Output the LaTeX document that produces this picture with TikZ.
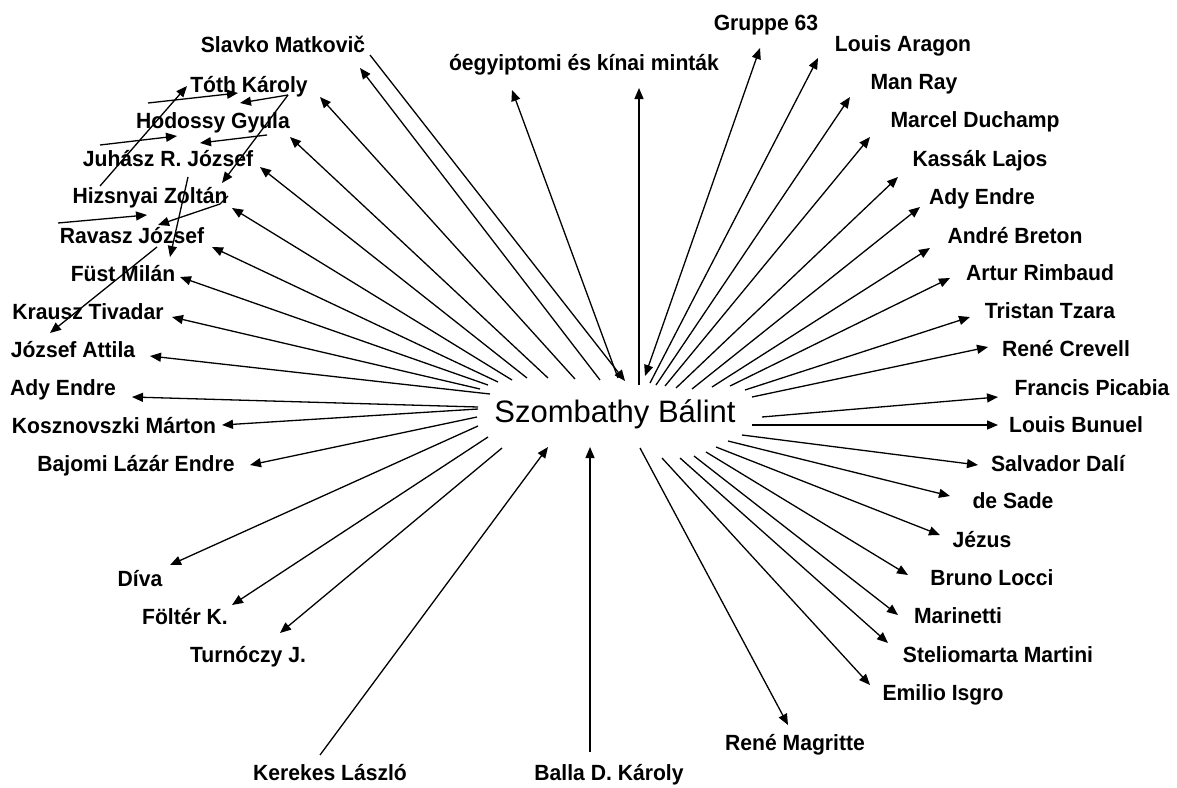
\documentclass[tikz,border=0pt]{standalone}
\usepackage{fontspec}
\setmainfont{Liberation Sans}
\usetikzlibrary{arrows.meta}
\newfontfamily\lblfamily{Liberation Sans}[FakeStretch=0.96]
\begin{document}
\begin{tikzpicture}[x=1pt,y=-1pt,
  lbl/.style={font=\lblfamily\bfseries\fontsize{22}{26}\selectfont, anchor=base, inner sep=0pt},
  hub/.style={font=\fontsize{31}{36}\selectfont, anchor=base, inner sep=0pt},
  tip/.tip={Triangle[length=11pt,width=9pt]},
  conn/.style={-tip, line width=1.3pt},
  dconn/.style={tip-tip, line width=1.3pt}]
\useasboundingbox[fill=white] (0,0) rectangle (1177,787);

% hub
\node[hub] (sz) at (615,422) {Szombathy Bálint};

% labels, left half
\node[lbl] (slavko) at (283,52) {Slavko Matkovič};
\node[lbl] (oegy) at (584,70) {óegyiptomi és kínai minták};
\node[lbl] (toth) at (249,92) {Tóth Károly};
\node[lbl] (hodossy) at (213,128) {Hodossy Gyula};
\node[lbl] (juhasz) at (168,166) {Juhász R. József};
\node[lbl] (hizsnyai) at (150,203) {Hizsnyai Zoltán};
\node[lbl] (ravasz) at (132,243) {Ravasz József};
\node[lbl] (fust) at (123,281) {Füst Milán};
\node[lbl] (krausz) at (88,319) {Krausz Tivadar};
\node[lbl] (jozsef) at (73,357) {József Attila};
\node[lbl] (adyl) at (63,395) {Ady Endre};
\node[lbl] (kosz) at (114,433) {Kosznovszki Márton};
\node[lbl] (bajomi) at (136,471) {Bajomi Lázár Endre};
\node[lbl] (diva) at (140,586) {Díva};
\node[lbl] (folter) at (185,624) {Föltér K.};
\node[lbl] (turnoczy) at (248,662) {Turnóczy J.};
\node[lbl] (kerekes) at (330,780) {Kerekes László};
\node[lbl] (balla) at (609,780) {Balla D. Károly};
\node[lbl] (magritte) at (795,750) {René Magritte};

% labels, right half
\node[lbl] (gruppe) at (766,30) {Gruppe 63};
\node[lbl] (aragon) at (903,51) {Louis Aragon};
\node[lbl] (manray) at (914,89) {Man Ray};
\node[lbl] (duchamp) at (975,127) {Marcel Duchamp};
\node[lbl] (kassak) at (980,166) {Kassák Lajos};
\node[lbl] (adyr) at (982,204) {Ady Endre};
\node[lbl] (breton) at (1015,243) {André Breton};
\node[lbl] (rimbaud) at (1040,280) {Artur Rimbaud};
\node[lbl] (tzara) at (1050,318) {Tristan Tzara};
\node[lbl] (crevell) at (1066,356) {René Crevell};
\node[lbl] (picabia) at (1092,395) {Francis Picabia};
\node[lbl] (bunuel) at (1076,432) {Louis Bunuel};
\node[lbl] (dali) at (1058,471) {Salvador Dalí};
\node[lbl] (sade) at (1013,508) {de Sade};
\node[lbl] (jezus) at (982,547) {Jézus};
\node[lbl] (locci) at (992,585) {Bruno Locci};
\node[lbl] (marinetti) at (958,623) {Marinetti};
\node[lbl] (martini) at (998,662) {Steliomarta Martini};
\node[lbl] (isgro) at (943,700) {Emilio Isgro};

% arrow ends around the hub (s-...) and beside the labels (t-...)
\coordinate (s-slavko) at (600,380);   \coordinate (t-slavko) at (360,68);
\coordinate (s-slavkoin) at (370,55);  \coordinate (t-slavkoin) at (625,381);
\coordinate (s-oegy1) at (618,378);    \coordinate (t-oegy1) at (512,90);
\coordinate (s-oegy2) at (639,385);    \coordinate (t-oegy2) at (639,88);
\coordinate (s-toth) at (575,379);     \coordinate (t-toth) at (320,97);
\coordinate (s-hodossy) at (548,378);  \coordinate (t-hodossy) at (290,137);
\coordinate (s-juhasz) at (527,378);   \coordinate (t-juhasz) at (260,167);
\coordinate (s-hizsnyai) at (512,380); \coordinate (t-hizsnyai) at (232,208);
\coordinate (s-ravasz) at (498,382);   \coordinate (t-ravasz) at (212,247);
\coordinate (s-fust) at (488,385);     \coordinate (t-fust) at (180,277);
\coordinate (s-krausz) at (480,389);   \coordinate (t-krausz) at (172,317);
\coordinate (s-jozsef) at (490,394);   \coordinate (t-jozsef) at (150,356);
\coordinate (s-adyl) at (478,407);     \coordinate (t-adyl) at (132,397);
\coordinate (s-kosz) at (478,409);     \coordinate (t-kosz) at (222,425);
\coordinate (s-bajomi) at (477,417);   \coordinate (t-bajomi) at (250,465);
\coordinate (s-diva) at (478,426);     \coordinate (t-diva) at (170,565);
\coordinate (s-folter) at (488,437);   \coordinate (t-folter) at (232,605);
\coordinate (s-turnoczy) at (502,448); \coordinate (t-turnoczy) at (280,633);
\coordinate (s-kerekes) at (320,755);  \coordinate (t-kerekes) at (548,447);
\coordinate (s-balla) at (590,752);    \coordinate (t-balla) at (590,447);
\coordinate (s-magritte) at (640,448); \coordinate (t-magritte) at (788,725);
\coordinate (s-gruppe) at (645,376);   \coordinate (t-gruppe) at (760,48);
\coordinate (s-aragon) at (650,383);   \coordinate (t-aragon) at (818,58);
\coordinate (s-manray) at (656,385);   \coordinate (t-manray) at (850,97);
\coordinate (s-duchamp) at (665,386);  \coordinate (t-duchamp) at (870,137);
\coordinate (s-kassak) at (676,388);   \coordinate (t-kassak) at (898,177);
\coordinate (s-adyr) at (692,389);     \coordinate (t-adyr) at (920,207);
\coordinate (s-breton) at (712,387);   \coordinate (t-breton) at (930,248);
\coordinate (s-rimbaud) at (730,386);  \coordinate (t-rimbaud) at (950,278);
\coordinate (s-tzara) at (745,390);    \coordinate (t-tzara) at (970,317);
\coordinate (s-crevell) at (752,397);  \coordinate (t-crevell) at (988,347);
\coordinate (s-picabia) at (762,417);  \coordinate (t-picabia) at (998,397);
\coordinate (s-bunuel) at (752,425);   \coordinate (t-bunuel) at (998,425);
\coordinate (s-dali) at (742,435);     \coordinate (t-dali) at (978,465);
\coordinate (s-sade) at (728,441);     \coordinate (t-sade) at (950,496);
\coordinate (s-jezus) at (716,447);    \coordinate (t-jezus) at (940,535);
\coordinate (s-locci) at (706,452);    \coordinate (t-locci) at (908,575);
\coordinate (s-marinetti) at (694,456);\coordinate (t-marinetti) at (898,615);
\coordinate (s-martini) at (680,458);  \coordinate (t-martini) at (888,643);
\coordinate (s-isgro) at (662,458);    \coordinate (t-isgro) at (870,685);

% spokes
\foreach \n in {slavko,oegy1,oegy2,toth,hodossy,juhasz,hizsnyai,ravasz,fust,krausz,
  jozsef,adyl,kosz,bajomi,diva,folter,turnoczy,magritte,aragon,manray,duchamp,kassak,
  adyr,breton,rimbaud,tzara,crevell,picabia,bunuel,dali,sade,jezus,locci,marinetti,
  martini,isgro,slavkoin,kerekes,balla}
  \draw[conn] (s-\n) -- (t-\n);
\draw[dconn] (s-gruppe) -- (t-gruppe);

% cross links among the names at the upper left
\coordinate (a1) at (100,186); \coordinate (b1) at (187,86);
\coordinate (a2) at (148,103); \coordinate (b2) at (238,93);
\coordinate (v1) at (288,95);  \coordinate (b3) at (240,103); \coordinate (b4) at (222,183);
\coordinate (a5) at (100,145); \coordinate (b5) at (177,136);
\coordinate (a6) at (267,135); \coordinate (b6) at (200,143);
\coordinate (a7) at (188,177); \coordinate (b7) at (170,257);
\coordinate (a8) at (58,223);  \coordinate (b8) at (147,215);
\coordinate (a9) at (228,196); \coordinate (v9) at (220,204); \coordinate (b9) at (158,225);
\coordinate (a10) at (157,247); \coordinate (b10) at (50,333);
\draw[conn] (a1) -- (b1);
\draw[conn] (a2) -- (b2);
\draw[conn] (v1) -- (b3);
\draw[conn] (v1) -- (b4);
\draw[conn] (a5) -- (b5);
\draw[conn] (a6) -- (b6);
\draw[conn] (a7) -- (b7);
\draw[conn] (a8) -- (b8);
\draw[conn] (a9) -- (v9) -- (b9);
\draw[conn] (a10) -- (b10);
\end{tikzpicture}
\end{document}
